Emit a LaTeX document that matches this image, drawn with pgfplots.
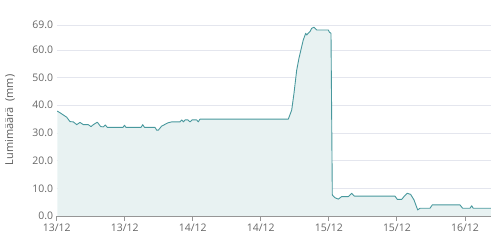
\documentclass[border=0pt]{standalone}
\usepackage{pgfplots}
\pgfplotsset{compat=1.18}
\usepackage{fontspec}
\setmainfont{Open Sans}
\usetikzlibrary{calc}
\definecolor{linec}{RGB}{72,152,157}
\definecolor{fillc}{RGB}{232,242,242}
\definecolor{gridc}{RGB}{228,230,238}
\definecolor{tickc}{RGB}{102,102,102}
\definecolor{axc}{RGB}{150,150,150}
\pgfplotstableread{
x y
0.1 37.9
0.58 37.3
1.16 36.5
1.76 35.7
2.35 34.1
2.93 34.0
3.53 33.0
4.11 33.8
4.69 33.0
5.57 33.0
6.05 32.3
6.46 33.0
7.16 33.9
7.76 32.3
8.22 32.2
8.57 32.9
8.92 32.0
11.69 32.0
11.96 32.8
12.22 32.0
14.87 32.0
15.17 33.0
15.49 32.0
17.34 32.0
17.64 31.0
17.92 31.0
18.52 32.5
19.1 33.1
19.68 33.7
20.28 34.0
21.75 34.0
22.05 34.7
22.36 34.0
22.63 34.7
23.16 34.7
23.51 34.0
23.86 34.7
24.69 34.7
24.97 34.0
25.27 35.0
40.85 35.0
41.45 38.3
41.85 44.3
42.33 52.7
42.73 57.0
43.21 61.2
43.49 63.6
43.92 66.0
44.09 65.4
44.37 66.0
44.67 66.6
44.97 67.8
45.38 68.2
45.86 67.2
47.9 67.2
48.11 66.4
48.38 66.0
48.61 7.6
49.08 6.6
49.66 6.1
50.26 7.0
51.43 7.0
52.03 8.2
52.49 7.2
59.66 7.2
60.07 6.0
60.85 6.0
61.25 7.0
61.83 8.2
62.43 7.8
63.02 5.8
63.67 2.2
64.07 2.8
65.84 2.8
66.24 4.0
71.13 4.0
71.6 2.8
72.89 2.8
73.19 3.7
73.47 2.8
76.6 2.8
}\snowtable
\begin{document}
\begin{tikzpicture}
\begin{axis}[
  name=ax,
  scale only axis,
  width=434.3bp, height=191bp,
  xmin=0, xmax=76.6,
  ymin=0, ymax=69,
  axis line style={draw=none},
  ytick={0,10,20,30,40,50,60,69},
  yticklabel style={/pgf/number format/fixed,/pgf/number format/fixed zerofill,/pgf/number format/precision=1, font=\fontsize{10.5}{12}\selectfont, text=tickc},
  /pgf/number format/assume math mode=true,
  xtick={0,12,24,36,48,60,72},
  xticklabels={13/12,13/12,14/12,14/12,15/12,15/12,16/12},
  xticklabel style={font=\fontsize{10.5}{12}\selectfont, text=tickc, yshift=-4.5bp},
  ymajorgrids,
  major grid style={gridc, line width=0.8pt},
  tick style={draw=none},
  clip=false,
]
\addplot[fill=fillc, draw=none] table {\snowtable} \closedcycle;
\addplot[linec, line width=0.9pt, line join=round] table {\snowtable};
\draw[axc, line width=0.8pt] (axis cs:0,0) -- (axis cs:76.6,0);
\pgfplotsinvokeforeach{0,12,24,36,48,60,72}{
  \draw[axc, line width=0.8pt] (axis cs:#1,0) -- ++(0,-5bp);
}
\end{axis}
\node[rotate=90, font=\fontsize{11}{12}\selectfont, text=tickc!90!black] at ($(ax.south west)+(-46.7bp,96bp)$) {Lumimäärä\ \ (mm)};
\pgfresetboundingbox
\path[use as bounding box] ($(ax.south west)+(-56.7bp,-27bp)$) rectangle ($(ax.north east)+(0,25bp)$);
\end{tikzpicture}
\end{document}
